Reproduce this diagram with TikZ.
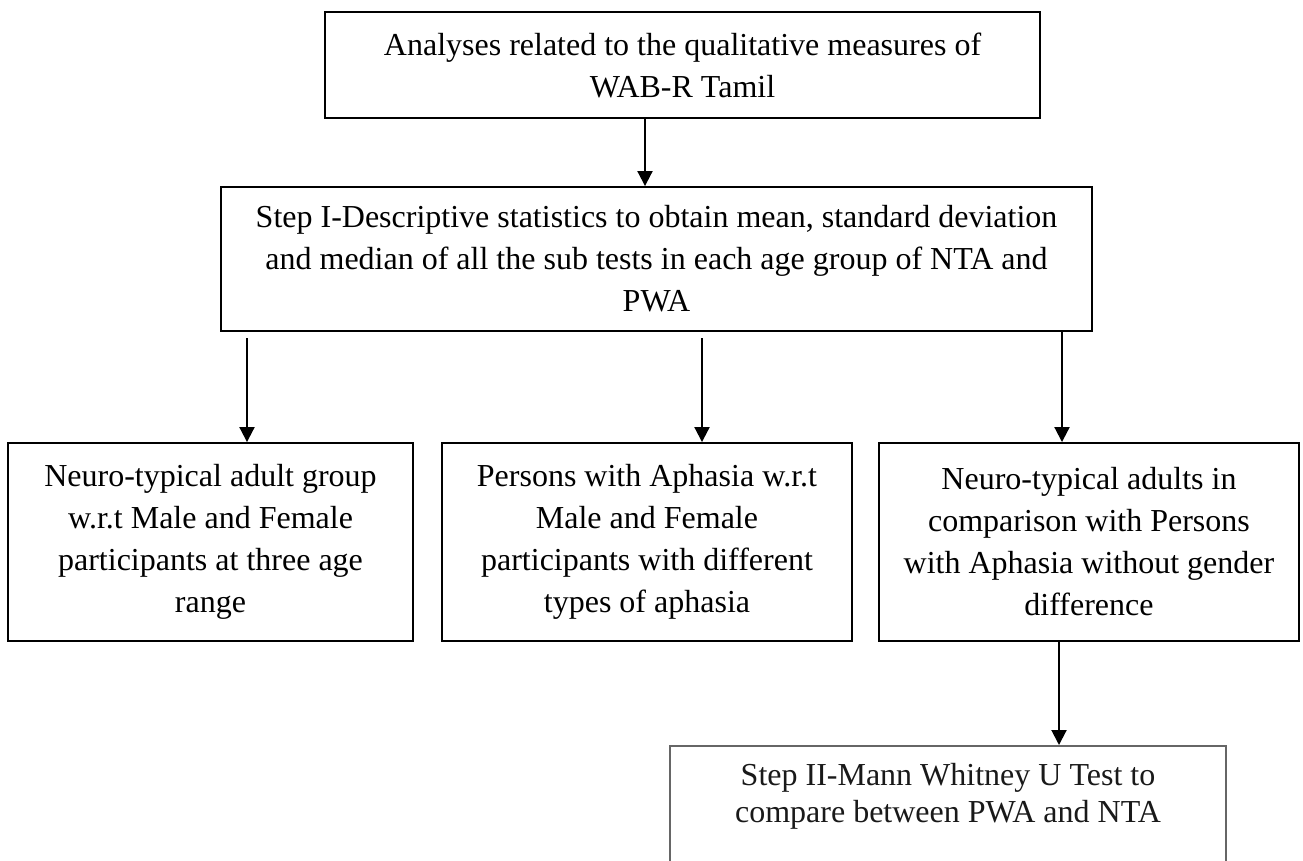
\documentclass[tikz,border=0pt]{standalone}
\usepackage{fontspec}
\setmainfont{Liberation Serif}
\usetikzlibrary{arrows.meta}
\tikzset{
  box/.style={draw, line width=1.9pt, align=center, inner sep=0pt, font=\fontsize{32}{42}\selectfont},
  greybox/.style={draw=black!60, line width=1.5pt, inner sep=0pt},
  arr/.style={line width=2pt, -{Triangle[length=15pt,width=15pt]}}
}
\begin{document}
\begin{tikzpicture}[x=1pt,y=-1pt]
\useasboundingbox (0,0) rectangle (1303,860);
\fill[white] (0,0) rectangle (1303,860);
% top box
\node[box, minimum width=715pt, minimum height=106pt] (top) at (682.5,65) {Analyses related to the qualitative measures of\\WAB-R Tamil};
% step I
\node[box, minimum width=871pt, minimum height=144pt] (s1) at (656.5,259) {Step I-Descriptive statistics to obtain mean, standard deviation\\and median of all the sub tests in each age group of NTA and\\PWA};
% row boxes
\node[box, minimum width=405pt, minimum height=198pt] (b1) at (210.5,542) {Neuro-typical adult group\\w.r.t Male and Female\\participants at three age\\range};
\node[box, minimum width=410pt, minimum height=198pt] (b2) at (647,542) {Persons with Aphasia w.r.t\\Male and Female\\participants with different\\types of aphasia};
\node[box, minimum width=420pt, minimum height=198pt] (b3) at (1089,542) {Neuro-typical adults in\\comparison with Persons\\with Aphasia without gender\\difference};
% bottom box (cut off by page)
\node[greybox, minimum width=556pt, minimum height=200pt, anchor=north] (s2) at (948,745) {};
\node[align=center, inner sep=0pt, anchor=north, font=\fontsize{32}{37}\selectfont, text=black!90] (s2t) at (948,763) {Step II-Mann Whitney U Test to\\compare between PWA and NTA};
% connectors
\coordinate (c0) at (645,118);
\draw[arr] (c0) -- (c0 |- s1.north);
\coordinate (c1) at (247,338);
\coordinate (c2) at (702,338);
\coordinate (c3) at (1062,331);
\draw[arr] (c1) -- (c1 |- b1.north);
\draw[arr] (c2) -- (c2 |- b2.north);
\draw[arr] (c3) -- (c3 |- b3.north);
\coordinate (c4) at (1059,641);
\draw[arr] (c4) -- (c4 |- s2.north);
\end{tikzpicture}
\end{document}
